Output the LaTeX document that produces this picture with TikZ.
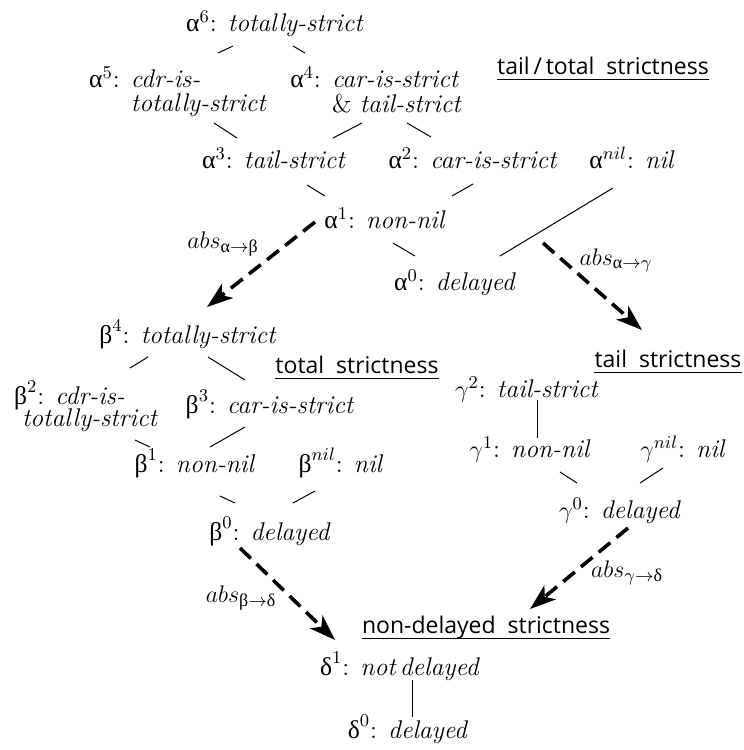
\documentclass[tikz,border=0pt]{standalone}
\usepackage{amsmath}
\usepackage{fontspec}
\newfontfamily\grk{Liberation Serif}
\newfontfamily\hdfont{Open Sans}
\usetikzlibrary{arrows.meta}
\newcommand{\grA}{\text{\grk α}}
\newcommand{\grB}{\text{\grk β}}
\newcommand{\grD}{\text{\grk δ}}
\begin{document}
\begin{tikzpicture}[x=0.5pt,y=-0.5pt,
  lbl/.style={inner sep=0pt, anchor=base, font=\fontsize{12.8}{11.5}\selectfont},
  hd/.style={inner sep=0pt, anchor=base, font=\hdfont\fontsize{11.5}{13}\selectfont},
  conn/.style={line width=0.5pt},
  ul/.style={line width=0.7pt},
  absarrow/.style={line width=1.8pt, dash pattern=on 7.5pt off 4pt,
    -{Stealth[length=13pt,width=9pt,inset=3.5pt]}}]
\useasboundingbox (0,0) rectangle (744,750);

% alpha lattice
\node[lbl] (a6) at (275,31) {$\grA^{6}$: \textit{totally-strict}};
\node[lbl] (a5) at (178,87) {$\grA^{5}$: \begin{tabular}[t]{@{}l@{}}\textit{cdr-is-}\\\textit{totally-strict}\end{tabular}};
\node[lbl] (a4) at (376,87) {$\grA^{4}$: \begin{tabular}[t]{@{}l@{}}\textit{car-is-strict}\\\textup{\&} \textit{tail-strict}\end{tabular}};
\node[lbl] (a3) at (274,168) {$\grA^{3}$: \textit{tail-strict}};
\node[lbl] (a2) at (473,168) {$\grA^{2}$: \textit{car-is-strict}};
\node[lbl] (anil) at (632,168) {$\grA^{nil}$: \textit{nil}};
\node[lbl] (a1) at (385,228) {$\grA^{1}$: \textit{non-nil}};
\node[lbl] (a0) at (455,290) {$\grA^{0}$: \textit{delayed}};

% beta lattice
\node[lbl] (b4) at (188,343) {$\grB^{4}$: \textit{totally-strict}};
\node[lbl] (b2) at (86,404) {\begin{tabular}[t]{@{}l@{}}$\grB^{2}$: \textit{cdr-is-}\\[-1pt]\hspace*{4pt}\textit{totally-strict}\end{tabular}};
\node[lbl] (b3) at (270,413) {$\grB^{3}$: \textit{car-is-strict}};
\node[lbl] (b1) at (195,472) {$\grB^{1}$: \textit{non-nil}};
\node[lbl] (bnil) at (341,472) {$\grB^{nil}$: \textit{nil}};
\node[lbl] (b0) at (270,540) {$\grB^{0}$: \textit{delayed}};

% gamma lattice
\node[lbl] (g2) at (527,397) {$\gamma^{2}$: \textit{tail-strict}};
\node[lbl] (g1) at (530,457) {$\gamma^{1}$: \textit{non-nil}};
\node[lbl] (gnil) at (683,457) {$\gamma^{nil}$: \textit{nil}};
\node[lbl] (g0) at (620,518) {$\gamma^{0}$: \textit{delayed}};

% delta lattice
\node[lbl] (d1) at (400,675) {$\grD^{1}$: \textit{not\,delayed}};
\node[lbl] (d0) at (408,738) {$\grD^{0}$: \textit{delayed}};

% headings
\node[hd] (h1) at (603,74) {tail\,/\,total\ \ strictness};
\node[hd] (h2) at (357,373) {total\ \ strictness};
\node[hd] (h3) at (668,367) {tail\ \ strictness};
\node[hd] (h4) at (486,633) {non-delayed\ \ strictness};
\foreach \h in {h1,h2,h3,h4}
  \draw[ul] ([yshift=-2.6pt]\h.base west) -- ([yshift=-2.6pt]\h.base east);

% abstraction labels
\node[lbl] (l1) at (223,248) {$abs_{\grA\to\grB}$};
\node[lbl] (l2) at (616,265) {$abs_{\grA\to\gamma}$};
\node[lbl] (l3) at (241,602) {$abs_{\grB\to\grD}$};
\node[lbl] (l4) at (627,577) {$abs_{\gamma\to\grD}$};

% lattice connectors
\draw[conn] ([shift={(-42,15)}]a6.base) -- ([shift={(40,-34)}]a5.base);
\draw[conn] ([shift={(18,15)}]a6.base) -- ([shift={(-71,-34)}]a4.base);
\draw[conn] ([shift={(36,36)}]a5.base) -- ([shift={(-37,-30)}]a3.base);
\draw[conn] ([shift={(-14,36)}]a4.base) -- ([shift={(59,-30)}]a3.base);
\draw[conn] ([shift={(31,36)}]a4.base) -- ([shift={(-42,-31)}]a2.base);
\draw[conn] ([shift={(33,17)}]a3.base) -- ([shift={(-60,-32)}]a1.base);
\draw[conn] ([shift={(0,16)}]a2.base) -- ([shift={(67,-32)}]a1.base);
\draw[conn] ([shift={(-19,20)}]anil.base) -- ([shift={(45,-34)}]a0.base);
\draw[conn] ([shift={(8,15)}]a1.base) -- ([shift={(-40,-34)}]a0.base);

\draw[conn] ([shift={(-40,14)}]b4.base) -- ([shift={(44,-36)}]b2.base);
\draw[conn] ([shift={(20,14)}]b4.base) -- ([shift={(-25,-33)}]b3.base);
\draw[conn] ([shift={(49,36)}]b2.base) -- ([shift={(-45,-25)}]b1.base);
\draw[conn] ([shift={(-25,14)}]b3.base) -- ([shift={(15,-25)}]b1.base);
\draw[conn] ([shift={(25,24)}]b1.base) -- ([shift={(-35,-37)}]b0.base);
\draw[conn] ([shift={(-26,19)}]bnil.base) -- ([shift={(23,-37)}]b0.base);

\draw[conn] ([shift={(10,3)}]g2.base) -- ([shift={(7,-19)}]g1.base);
\draw[conn] ([shift={(30,15)}]g1.base) -- ([shift={(-43,-35)}]g0.base);
\draw[conn] ([shift={(-20,11)}]gnil.base) -- ([shift={(20,-35)}]g0.base);

\draw[conn] ([shift={(12,5)}]d1.base) -- ([shift={(4,-21)}]d0.base);

% abstraction arrows
\draw[absarrow] ([shift={(-70,-6)}]a1.base) -- ([shift={(19,-36)}]b4.base);
\draw[absarrow] ([shift={(158,15)}]a1.base) -- ([shift={(-26,-37)}]h3.base);
\draw[absarrow] ([shift={(-30,8)}]b0.base) -- ([shift={(-65,-35)}]d1.base);
\draw[absarrow] ([shift={(8,10)}]g0.base) -- ([shift={(44,-24)}]h4.base);
\end{tikzpicture}
\end{document}
